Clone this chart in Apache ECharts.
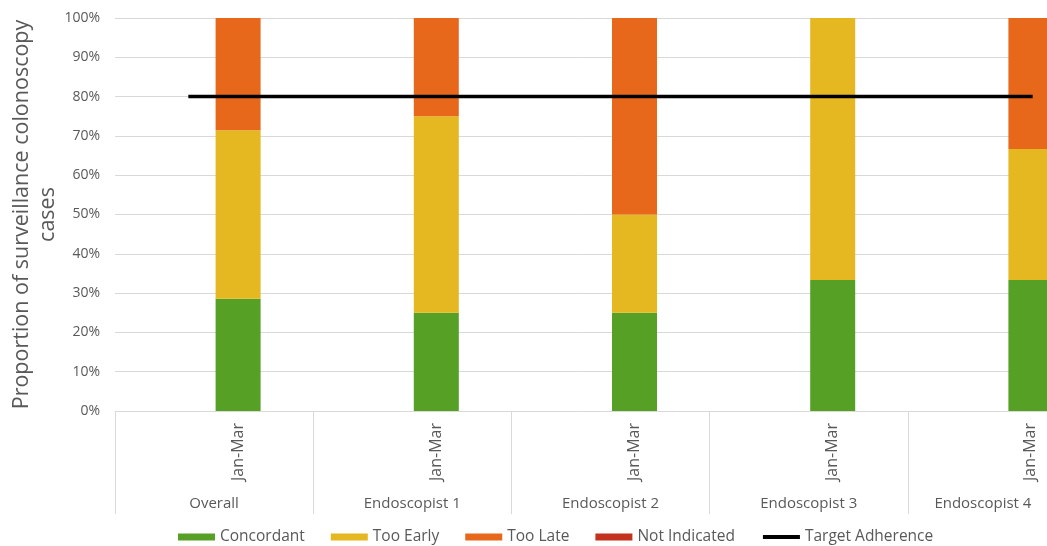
<!DOCTYPE html>
<html>
<head>
<meta charset="utf-8">
<script src="https://cdn.jsdelivr.net/npm/echarts@6/dist/echarts.min.js"></script>
<style>
  html, body { margin: 0; padding: 0; background: #fff; }
  #chart { width: 1047px; height: 546px; }
</style>
</head>
<body>
<div id="chart"></div>
<script>
// Surveillance colonoscopy interval adherence, Jan-Mar
const groups = ['Overall', 'Endoscopist 1', 'Endoscopist 2', 'Endoscopist 3', 'Endoscopist 4'];
const periods = ['Jan-Mar', 'Jan-Mar', 'Jan-Mar', 'Jan-Mar', 'Jan-Mar'];

// Shares of cases (%) per group
const concordant   = [28.57, 25, 25, 33.33, 33.33];
const tooEarly     = [42.86, 50, 25, 66.67, 33.33];
const tooLate      = [28.57, 25, 50, 0, 33.33];
const notIndicated = [0, 0, 0, 0, 0];

// Target adherence level (%) and its extent along the group axis
const targetLevel = 80;
const targetSpan = [0.37, 4.63];

const yTicks = { min: 0, max: 100, interval: 10 };

const textGrey = '#595959';
const ruleGrey = '#D9D9D9';
const font = '"Open Sans", "DejaVu Sans", sans-serif';

const chart = echarts.init(document.getElementById('chart'), null, { renderer: 'canvas' });

const yAxisBase = {
  type: 'value',
  min: yTicks.min,
  max: yTicks.max,
  interval: yTicks.interval
};

// The last group name sits at the right edge, so it is nudged inwards to stay readable
const lastGroup = groups.length - 1;

const option = {
  backgroundColor: '#ffffff',
  animation: false,
  textStyle: { fontFamily: font },
  grid: [
    // group axis, gridlines and target line
    { left: 115, right: -59, top: 18, bottom: 135, outerBoundsMode: 'none' },
    // stacked bars and period labels
    { left: 139, right: -83, top: 18, bottom: 135, outerBoundsMode: 'none' }
  ],
  xAxis: [
    {
      type: 'category',
      gridIndex: 0,
      data: groups,
      axisLine: { show: true, lineStyle: { color: ruleGrey, width: 1 } },
      axisTick: { show: true, length: 103, interval: 0, lineStyle: { color: ruleGrey, width: 1 } },
      axisLabel: {
        interval: 0,
        margin: 85,
        color: textGrey,
        fontSize: 15,
        fontFamily: font,
        formatter: (v, i) => (i === lastGroup ? '{edge|' + v + '}' : v),
        rich: {
          edge: { color: textGrey, fontSize: 15, fontFamily: font, padding: [0, 48, 0, 0] }
        }
      },
      splitLine: { show: false }
    },
    {
      type: 'category',
      gridIndex: 1,
      data: groups,
      axisLine: { show: false },
      axisTick: { show: false },
      axisLabel: {
        interval: 0,
        rotate: 90,
        margin: 12,
        color: textGrey,
        fontSize: 16,
        fontFamily: font,
        formatter: (v, i) => periods[i]
      },
      splitLine: { show: false }
    },
    {
      type: 'value',
      gridIndex: 0,
      min: 0,
      max: groups.length,
      show: false
    }
  ],
  yAxis: [
    Object.assign({}, yAxisBase, {
      gridIndex: 0,
      name: 'Proportion of surveillance colonoscopy\ncases',
      nameLocation: 'middle',
      nameGap: 54,
      nameMoveOverlap: false,
      nameTextStyle: { color: textGrey, fontSize: 21.5, lineHeight: 26, fontFamily: font },
      axisLine: { show: false },
      axisTick: { show: false },
      axisLabel: { formatter: '{value}%', color: textGrey, fontSize: 14, margin: 15, fontFamily: font },
      splitLine: { show: true, lineStyle: { color: ruleGrey, width: 1 } }
    }),
    Object.assign({}, yAxisBase, {
      gridIndex: 1,
      show: false,
      splitLine: { show: false }
    })
  ],
  legend: {
    left: 173,
    bottom: -4,
    itemWidth: 37,
    itemHeight: 7,
    itemGap: 26,
    textStyle: { color: textGrey, fontSize: 15.5, fontFamily: font },
    data: [
      { name: 'Concordant', icon: 'rect' },
      { name: 'Too Early', icon: 'rect' },
      { name: 'Too Late', icon: 'rect' },
      { name: 'Not Indicated', icon: 'rect' },
      { name: 'Target Adherence', itemStyle: { opacity: 0 }, lineStyle: { width: 4, color: '#000000' } }
    ]
  },
  series: [
    {
      name: 'Concordant', type: 'bar', stack: 'cases',
      xAxisIndex: 1, yAxisIndex: 1, barWidth: 45,
      itemStyle: { color: '#56A025' },
      data: concordant
    },
    {
      name: 'Too Early', type: 'bar', stack: 'cases',
      xAxisIndex: 1, yAxisIndex: 1, barWidth: 45,
      itemStyle: { color: '#E5B821' },
      data: tooEarly
    },
    {
      name: 'Too Late', type: 'bar', stack: 'cases',
      xAxisIndex: 1, yAxisIndex: 1, barWidth: 45,
      itemStyle: { color: '#E8681B' },
      data: tooLate
    },
    {
      name: 'Not Indicated', type: 'bar', stack: 'cases',
      xAxisIndex: 1, yAxisIndex: 1, barWidth: 45,
      itemStyle: { color: '#C2321C' },
      data: notIndicated
    },
    {
      name: 'Target Adherence', type: 'line',
      xAxisIndex: 2, yAxisIndex: 0,
      symbol: 'none',
      z: 5,
      lineStyle: { color: '#000000', width: 3.5, cap: 'butt' },
      itemStyle: { color: '#000000' },
      data: targetSpan.map(x => [x, targetLevel])
    }
  ]
};

chart.setOption(option);
</script>
</body>
</html>
